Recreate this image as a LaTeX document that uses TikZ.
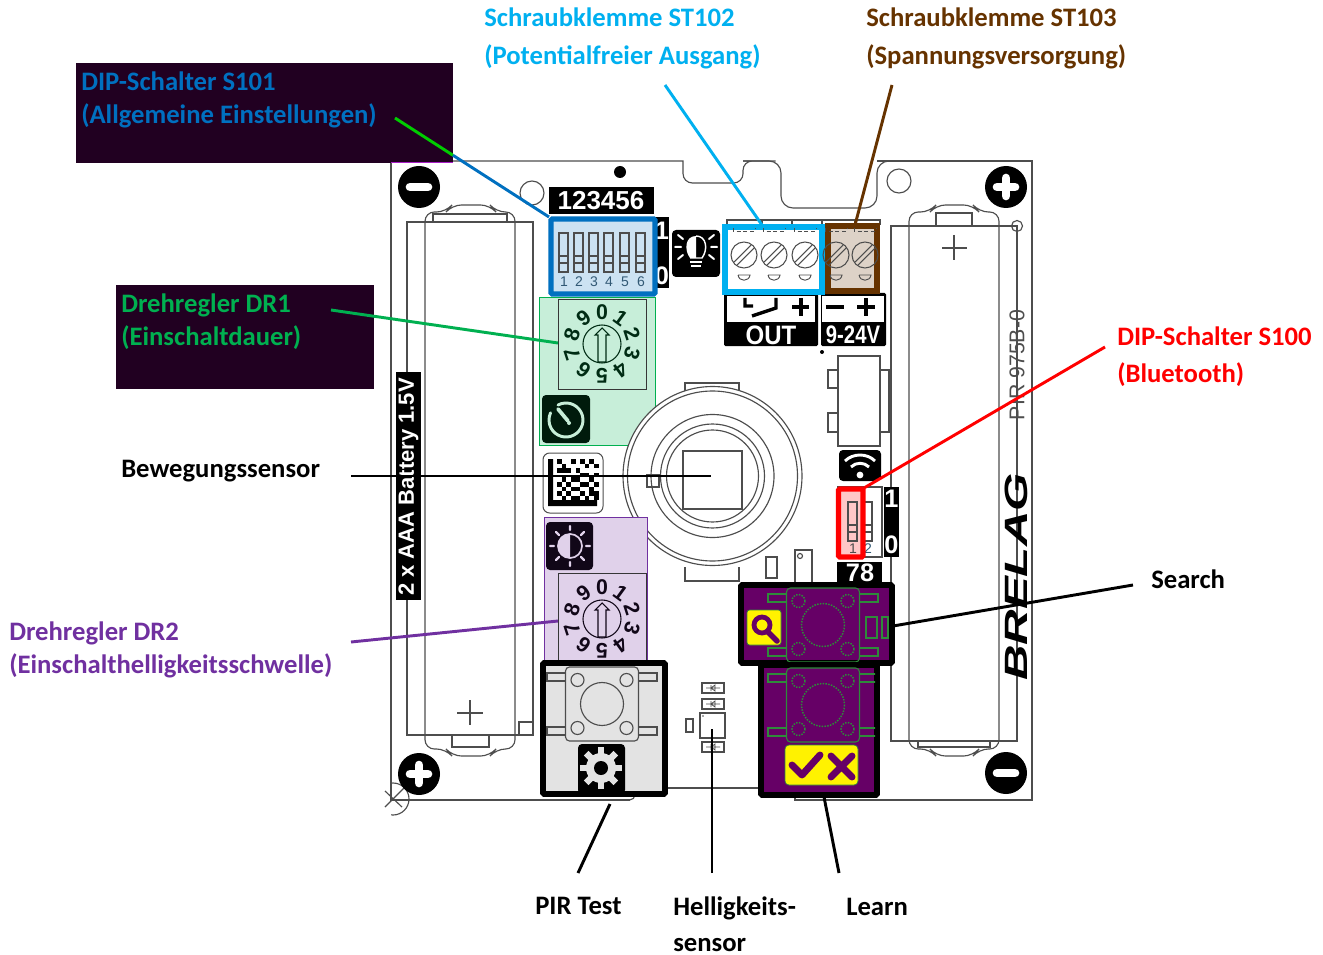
\documentclass[tikz,border=0pt]{standalone}
\usepackage{fontspec}
\setmainfont{Carlito}
\newfontfamily\arl{Liberation Sans}
\usetikzlibrary{calc}
\definecolor{cBlue}{HTML}{0070C0}
\definecolor{cCyan}{HTML}{00B0F0}
\definecolor{cBrown}{HTML}{663300}
\definecolor{cGreen}{HTML}{00B050}
\definecolor{cPurple}{HTML}{7030A0}
\definecolor{cDark}{HTML}{210021}
\definecolor{cPlum}{HTML}{660066}
\definecolor{cLine}{HTML}{4D4D4D}
\definecolor{cTrace}{HTML}{2E8B3A}
\tikzset{
  lbl/.style={font=\bfseries\fontsize{20}{22}\selectfont,anchor=base west,inner sep=0pt},
  conn/.style={line width=2.2pt},
  thin line/.style={draw=cLine,line width=0.85pt},
  trace/.style={draw=cTrace,line width=0.8pt},
  tracedot/.style={draw=cTrace,line width=1.1pt,densely dotted},
  whitebold/.style={text=white,font=\arl\bfseries,inner sep=0pt},
}
\newcommand{\dial}[3]{% cx cy colour
  \draw[draw=#3,line width=.8pt] (#1,#2) circle (19);
  \draw[draw=#3,line width=.8pt] ({#1-4},{#2+18}) -- ({#1-4},{#2-9}) -- ({#1-7},{#2-9}) -- (#1,{#2-16}) -- ({#1+7},{#2-9}) -- ({#1+4},{#2-9}) -- ({#1+4},{#2+18}) -- cycle;
  \foreach \i in {0,...,9}{
    \pgfmathsetmacro{\dx}{#1+31.5*sin(36*\i)}
    \pgfmathsetmacro{\dy}{#2-31.5*cos(36*\i)}
    \pgfmathsetmacro{\dr}{-36*\i}
    \node[text=#3,font=\arl\bfseries\fontsize{16}{17}\selectfont,inner sep=0pt,rotate=\dr] at (\dx,\dy) {\i};
  }
}
\newcommand{\screw}[3]{% cx cy colour
  \draw[draw=#3,line width=.8pt] (#1,#2) circle (13);
  \draw[draw=#3,line width=.8pt] ({#1-10},{#2+7}) -- ({#1+7},{#2-10});
  \draw[draw=#3,line width=.8pt] ({#1-7},{#2+10}) -- ({#1+10},{#2-7});
  \draw[draw=#3,line width=.7pt] ({#1-6},{#2+20}) -- ({#1+6},{#2+20}) .. controls ({#1+5},{#2+27}) and ({#1-5},{#2+27}) .. ({#1-6},{#2+20});
  \draw[draw=#3,line width=.7pt,densely dashed] ({#1-11},{#2-27}) -- ({#1-11},{#2-24}) -- ({#1+11},{#2-24}) -- ({#1+11},{#2-27});
}
\newcommand{\pushbutton}[4]{% cx cy style-for-lines style-for-dots
  \draw[#3,rounded corners=3pt] ({#1-36.5},{#2-37}) rectangle ({#1+36.5},{#2+37});
  \draw[#4] (#1,#2) circle (21.5);
  \foreach \sx in {-1,1}{\foreach \sy in {-1,1}{
    \draw[#4] ({#1+\sx*24.5},{#2+\sy*24}) circle (6.5);
    \draw[#3] ({#1+\sx*36.5},{#2+\sy*27-4}) rectangle ({#1+\sx*55},{#2+\sy*27+4});
  }}
}
\newcommand{\switchcell}[2]{% x-left y-top
  \draw[thin line] (#1,#2) rectangle ({#1+9},{#2+39});
  \draw[thin line] (#1,{#2+23}) -- ({#1+9},{#2+23});
  \draw[thin line] (#1,{#2+30}) -- ({#1+9},{#2+30});
}
\begin{document}
\begin{tikzpicture}[x=0.75pt,y=-0.75pt]
\useasboundingbox (0,0) rectangle (1323,955);
\fill[white] (0,0) rectangle (1323,955);

% board outline
\draw[thin line,line join=miter] (391,161) -- (683,161)
  {[rounded corners=7pt] -- (683,183) -- (743,183) -- (743,161) -- (781,161)}
  -- (743,161);
\draw[thin line,rounded corners=9pt] (743,161) -- (781,161) -- (781,208) -- (877,208) -- (877,161) -- (884,161);
\draw[thin line] (877,161) -- (1032,161) -- (1032,800) -- (795,800) -- (795,788) -- (640,788);
\draw[thin line,rounded corners=4pt] (650,788) -- (635,788) -- (635,800) -- (625,800);
\draw[thin line] (630,800) -- (391,800) -- (391,161);
\begin{scope}
\clip (391,780) rectangle (412,816);
\draw[thin line] (393,799) circle (16);
\end{scope}
\draw[thin line] (385,791) -- (402,807) (385,807) -- (405,787);

% holes
\draw[thin line] (532,193) circle (12);
\draw[thin line] (899,181) circle (12);
\draw[thin line] (1017,226) circle (5.5);
\fill[black] (620,172) circle (6);

% left battery
\draw[thin line] (407,222) rectangle (533,735);
\draw[thin line,rounded corners=7pt] (425,222) -- (425,212) -- (446,212) -- (452,205) -- (490,205) -- (496,212) -- (515,212) -- (515,749) -- (496,749) -- (490,756) -- (452,756) -- (446,749) -- (425,749) -- (425,222);
\draw[thin line] (433,214) rectangle (507,222);
\draw[thin line] (452,735) rectangle (489,747);
\draw[thin line] (519,722) rectangle (533,735);
\draw[thin line] (457,713) -- (483,713) (470,700) -- (470,725);
% right battery
\draw[thin line] (891,226) rectangle (1017,741);
\draw[thin line,rounded corners=7pt] (909,226) -- (909,212) -- (930,212) -- (936,205) -- (973,205) -- (979,212) -- (999,212) -- (999,749) -- (979,749) -- (973,756) -- (936,756) -- (930,749) -- (909,749) -- (909,226);
\draw[thin line] (936,213) rectangle (972,226);
\draw[thin line] (918,741) rectangle (990,747);
\draw[thin line] (942,248) -- (967,248) (954,235) -- (954,260);

% corner discs
\fill[black] (419,187) circle (21);
\draw[white,line width=6.5pt,line cap=round] (410,187) -- (428,187);
\fill[black] (1006,187) circle (21);
\draw[white,line width=6.5pt,line cap=round] (997,187) -- (1015,187) (1006,178) -- (1006,196);
\fill[black] (419,774) circle (21);
\draw[white,line width=6.5pt,line cap=round] (410,774) -- (428,774) (419,765) -- (419,783);
\fill[black] (1006,773) circle (21);
\draw[white,line width=6.5pt,line cap=round] (997,773) -- (1015,773);

% board texts
\fill[black] (396,372) rectangle (421,600);
\node[whitebold,rotate=90,font=\arl\bfseries\fontsize{16.5}{17}\selectfont] (battery) at (408.5,487) {2 x AAA Battery 1.5V};
\node[rotate=90,inner sep=0pt,text=cLine,font=\arl\fontsize{16}{17}\selectfont] (pcbid) at (1017,365) {PIR 975B-0};
\node[rotate=90,inner sep=0pt,xscale=1.19,yscale=.78,font=\arl\bfseries\itshape\fontsize{31}{32}\selectfont] (brand) at (1016,577) {BRELAG};

% DIP S101 block
\fill[black] (549,187) rectangle (654,214);
\node[whitebold,font=\arl\bfseries\fontsize{19.5}{20}\selectfont] (dipnums) at (601,201) {123456};
\fill[black] (655,217) rectangle (669,288);
\node[whitebold,font=\arl\bfseries\fontsize{19}{20}\selectfont] (dipone) at (662,231) {1};
\node[whitebold,font=\arl\bfseries\fontsize{19}{20}\selectfont] (dipzero) at (662,276) {0};
\draw[draw=cBlue,fill=cBlue!20,line width=3.9pt,rounded corners=1pt] (551,219) rectangle (655,294);
\foreach \k/\xx in {1/559,2/574,3/589,4/604,5/620,6/636}{
  \switchcell{\xx}{233}
  \node[inner sep=0pt,text=cBlue!35!cLine,font=\arl\fontsize{10.5}{11}\selectfont] at ({\xx+5},282) {\k};
}

% bulb
\fill[black,rounded corners=3pt] (672,230) rectangle (720,277);
\fill[white] (696,236) .. controls (685,236) and (684,250) .. (690,258) -- (696,258) -- cycle;
\draw[white,line width=1.1pt] (696,236) .. controls (707,236) and (708,250) .. (702,258) -- (690,258);
\draw[white,line width=1.6pt] (690,262) -- (702,262) (691,266) -- (701,266);
\draw[white,line width=1.5pt,line cap=round] (675,247) -- (681,247) (711,247) -- (717,247) (678,235) -- (683,239) (714,235) -- (709,239) (678,259) -- (683,255) (714,259) -- (709,255);

% terminal frame
\draw[thin line] (727,225) -- (727,220) -- (880,220) -- (880,225);
\draw[thin line] (762,220) -- (762,225) (792,220) -- (792,225) (822,220) -- (822,225) (855,220) -- (855,225);
% terminals
\fill[black,rounded corners=1pt] (724,294) rectangle (818,346);
\fill[white] (727,296) rectangle (815,322);
\fill[black,rounded corners=1pt] (821,293) rectangle (886,346);
\fill[white] (822,296) rectangle (884,322);
\draw[black,line width=2.6pt] (745,298) -- (745,306) -- (753,306) (776,298) -- (776,308) -- (752,316);
\draw[black,line width=2.8pt] (792,307) -- (809,307) (801,298) -- (801,316);
\draw[black,line width=2.8pt] (826,307) -- (844,307);
\draw[black,line width=2.8pt] (857,307) -- (875,307) (866,298) -- (866,316);
\node[whitebold,xscale=.9,font=\arl\bfseries\fontsize{20}{21}\selectfont] (outlbl) at (771,335) {OUT};
\node[whitebold,xscale=.8,font=\arl\bfseries\fontsize{19}{20}\selectfont] (voltlbl) at (853,335) {9-24V};
\fill[black] (822,352) circle (2);

\draw[draw=cCyan,fill=white,line width=3.9pt] (725,227) rectangle (822,292);
\screw{744}{255}{cLine}
\screw{774}{255}{cLine}
\screw{805}{255}{cLine}
\draw[draw=cBrown,fill=cBrown!22,line width=3.9pt] (828,226) rectangle (877,291);
\screw{836}{255}{cLine}
\screw{865}{255}{cLine}

% DR1
\draw[draw=cGreen,fill=cGreen!22,line width=.75pt] (539,298) rectangle (655,445);
\draw[draw=cLine!70!black,line width=.75pt] (558,300) rectangle (646,389);
\dial{602}{344}{black!75!cGreen}
\fill[black!85!cGreen,rounded corners=3pt] (542,395) rectangle (590,443);
\draw[cGreen!22,line width=2.2pt,line cap=round] (558,405) arc[start angle=-118,end angle=205,radius=17];
\draw[cGreen!22,line width=2.8pt,line cap=round] (558,409) -- (568,421);
\fill[cGreen!22] (569,423) circle (2);

% datamatrix
\draw[cLine,fill=white,line width=.75pt,rounded corners=5pt] (543,453) rectangle (603,513);
\fill[black] (548,459) rectangle (553,506) (548,500) rectangle (597,506);
\foreach \c/\r in {2/0,3/1,5/0,7/0,8/1,9/0,10/1,2/2,3/2,4/2,6/2,7/3,8/3,10/3,3/4,5/4,6/4,9/4,2/5,4/5,7/5,8/5,10/5,3/6,5/6,6/6,9/6,10/7,2/7,4/7,7/7,8/8,3/8,5/8,6/8,10/8,9/7}{
  \fill[black] ({548+\c*4.6},{459+\r*4.6}) rectangle ({548+\c*4.6+4.6},{459+\r*4.6+4.6});
}

% PIR sensor
\draw[thin line] (685,395) -- (685,383) -- (739,383) -- (739,395);
\draw[thin line] (685,567) -- (685,581) -- (739,581) -- (739,567);
\draw[thin line,fill=white] (712.5,476) circle (89.5);
\draw[thin line] (712.5,476) circle (85);
\draw[thin line] (712.5,476) circle (61.5);
\draw[thin line] (712.5,476) circle (52);
\draw[thin line] (712.5,476) circle (46);
\draw[thin line] (683,451) rectangle (742,509);
\draw[thin line] (647,475) rectangle (659,487);

% component upper right
\draw[thin line] (838,356) rectangle (880,446);
\draw[thin line] (828,370) rectangle (838,388);
\draw[thin line] (828,413) rectangle (838,432);
\draw[thin line] (880,370) rectangle (889,432);

% wifi
\fill[black,rounded corners=3pt] (839,450) rectangle (881,481);
\fill[white] (860,475) circle (3.4);
\draw[white,line width=2.2pt] (851,467) .. controls (856,462) and (864,462) .. (869,467);
\draw[white,line width=2.2pt] (845,461) .. controls (853,453) and (867,453) .. (875,461);

% S100
\draw[thin line] (838,487) rectangle (882,557);
\switchcell{863}{502}
\node[inner sep=0pt,text=cBlue!35!cLine,font=\arl\fontsize{10.5}{11}\selectfont] at (868,549) {2};
\fill[black] (884,487) rectangle (899,557);
\node[whitebold,font=\arl\bfseries\fontsize{19}{20}\selectfont] (sone) at (891.5,499) {1};
\node[whitebold,font=\arl\bfseries\fontsize{19}{20}\selectfont] (szero) at (891.5,545) {0};
\draw[draw=red,fill=red!22,line width=3.9pt,rounded corners=1pt] (838.5,489) rectangle (863,557);
\switchcell{848}{502}
\node[inner sep=0pt,text=cLine,font=\arl\fontsize{10.5}{11}\selectfont] at (853,549) {1};
\fill[black] (837,562) rectangle (882,585);
\node[whitebold,font=\arl\bfseries\fontsize{19}{20}\selectfont] (seventy) at (860,573) {78};

% small parts below sensor
\draw[thin line] (766,557) rectangle (777,578);
\draw[thin line] (795,550) rectangle (812,585);
\draw[thin line] (800,556) circle (2.5);

% DR2
\draw[draw=cPurple,fill=cPurple!22,line width=.75pt] (544,517) rectangle (647,665);
\draw[draw=cLine!70!black,line width=.75pt] (558,573) rectangle (646,665);
\dial{602}{619}{black!85!cPurple}
\fill[black!85!cPurple,rounded corners=3pt] (546,522) rectangle (593,570);
\fill[cPurple!22] (570,534) arc[start angle=-90,end angle=-270,radius=12];
\draw[cPurple!22,line width=1.3pt] (570,546) circle (12);
\draw[cPurple!22,line width=1.8pt,line cap=round] (570,526) -- (570,530) (570,562) -- (570,566) (550,546) -- (554,546) (586,546) -- (590,546) (556,532) -- (559,535) (584,532) -- (581,535) (556,560) -- (559,557) (584,560) -- (581,557);

% PIR test button box
\draw[draw=black,fill=black!11,line width=4.4pt,rounded corners=1pt] (543,663) rectangle (665,794);
\pushbutton{602}{704}{thin line}{thin line}
\fill[black,rounded corners=3pt] (578,744) rectangle (625,794);
\fill[black!11] (601,768) circle (15);
\foreach \a in {0,45,...,315}{
  \draw[black!11,line width=5pt] ({601+12*cos(\a)},{768+12*sin(\a)}) -- ({601+21*cos(\a)},{768+21*sin(\a)});
}
\fill[black] (601,768) circle (7);

% Search
\draw[draw=black,fill=cPlum,line width=4.4pt,rounded corners=1pt] (741,585) rectangle (892,663);
\begin{scope}
\clip (743,587) rectangle (890,661);
\pushbutton{823}{625}{trace}{tracedot}
\draw[trace] (866,617) rectangle (877,638) (882,617) rectangle (888,638);
\end{scope}
\fill[yellow,rounded corners=2pt] (747,610) rectangle (781,645);
\draw[draw=cTrace,line width=.5pt,rounded corners=2pt] (747,610) rectangle (781,645);
\draw[cPlum,line width=3.6pt] (762,625) circle (8);
\draw[cPlum,line width=4.2pt,line cap=round] (768,632) -- (777,641);

% Learn
\draw[draw=black,fill=cPlum,line width=4.4pt,rounded corners=1pt] (761,665) rectangle (877,795);
\begin{scope}
\clip (763,667) rectangle (875,793);
\pushbutton{823}{705}{trace}{tracedot}
\end{scope}
\fill[yellow,rounded corners=3pt] (785,745) rectangle (858,785);
\draw[draw=cTrace,line width=.5pt,rounded corners=3pt] (785,745) rectangle (858,785);
\draw[cPlum,line width=5.2pt,line cap=round,line join=round] (792,765) -- (802,775) -- (820,755);
\draw[cPlum,line width=5.2pt,line cap=round] (831,756) -- (852,777) (852,756) -- (831,777);

% brightness sensor
\draw[thin line] (702,683) rectangle (724,693);
\draw[thin line] (702,699) rectangle (724,709);
\draw[thin line] (702,742) rectangle (724,752);
\draw[thin line] (700,713) rectangle (725,738);
\draw[thin line] (686,719) rectangle (693,732);
\foreach \yy in {688,704,747}{
  \draw[cLine,line width=.6pt] (706,\yy) -- (720,\yy) (711,{\yy-3}) -- (711,{\yy+3}) (715,{\yy-3}) -- (711,\yy) -- (715,{\yy+3}) -- cycle;
}
\fill[cLine] (703,716) circle (.8);

% dark label boxes
\fill[cDark] (76,63) rectangle (453,163);
\fill[cDark] (116,285) rectangle (374,389);
\draw[cPurple!60!magenta,line width=.8pt] (391,162.5) -- (453,162.5);

% labels
\node[lbl,text=cCyan] (st102a) at (484,27) {Schraubklemme ST102};
\node[lbl,text=cCyan] (st102b) at (484,65) {(Potentialfreier Ausgang)};
\node[lbl,text=cBrown] (st103a) at (866,27) {Schraubklemme ST103};
\node[lbl,text=cBrown] (st103b) at (866,65) {(Spannungsversorgung)};
\node[lbl,text=cBlue] (s101a) at (81,91) {DIP-Schalter S101};
\node[lbl,text=cBlue] (s101b) at (81,124) {(Allgemeine Einstellungen)};
\node[lbl,text=cGreen] (dr1a) at (121,313) {Drehregler DR1};
\node[lbl,text=cGreen] (dr1b) at (121,345) {(Einschaltdauer)};
\node[lbl] (motion) at (121,477) {Bewegungssensor};
\node[lbl,text=cPurple] (dr2a) at (9,640) {Drehregler DR2};
\node[lbl,text=cPurple] (dr2b) at (9,673) {(Einschalthelligkeitsschwelle)};
\node[lbl,text=red] (s100a) at (1117,345) {DIP-Schalter S100};
\node[lbl,text=red] (s100b) at (1117,382) {(Bluetooth)};
\node[lbl] (search) at (1151,588) {Search};
\node[lbl] (pirtest) at (535,914) {PIR Test};
\node[lbl] (hella) at (673,915) {Helligkeits-};
\node[lbl] (hellb) at (673,951) {sensor};
\node[lbl] (learn) at (846,915) {Learn};

% connector ends
\coordinate (eS101a) at (395,118);
\coordinate (eS101m) at (453,155.3);
\coordinate (eS101b) at (549,217);
\coordinate (eDr1a) at (331,310);
\coordinate (eDr1b) at (558,343);
\coordinate (eDr2a) at (351,642);
\coordinate (eDr2b) at (558,621);
\coordinate (eSt2a) at (665,85);
\coordinate (eSt2b) at (762,225);
\coordinate (eSt3a) at (892,85);
\coordinate (eSt3b) at (855,225);
\coordinate (eMotA) at (351,476);
\coordinate (eMotB) at (711,476);
\coordinate (eS100a) at (1105,347);
\coordinate (eS100b) at (864,488);
\coordinate (eSeaA) at (1133,585);
\coordinate (eSeaB) at (893,626);
\coordinate (ePirA) at (578,873);
\coordinate (ePirB) at (610,804);
\coordinate (eHelA) at (712,873);
\coordinate (eHelB) at (712,729);
\coordinate (eLeaA) at (839,873);
\coordinate (eLeaB) at (824,797);

\draw[conn,draw=green!80!black] (eS101a) -- (eS101m);
\draw[conn,draw=cBlue] (eS101m) -- (eS101b);
\draw[conn,draw=cGreen] (eDr1a) -- (eDr1b);
\draw[conn,draw=cPurple] (eDr2a) -- (eDr2b);
\draw[conn,draw=cCyan] (eSt2a) -- (eSt2b);
\draw[conn,draw=cBrown] (eSt3a) -- (eSt3b);
\draw[conn] (eMotA) -- (eMotB);
\draw[conn,draw=red] (eS100a) -- (eS100b);
\draw[conn] (eSeaA) -- (eSeaB);
\draw[conn] (ePirA) -- (ePirB);
\draw[conn] (eHelA) -- (eHelB);
\draw[conn] (eLeaA) -- (eLeaB);
\end{tikzpicture}
\end{document}
